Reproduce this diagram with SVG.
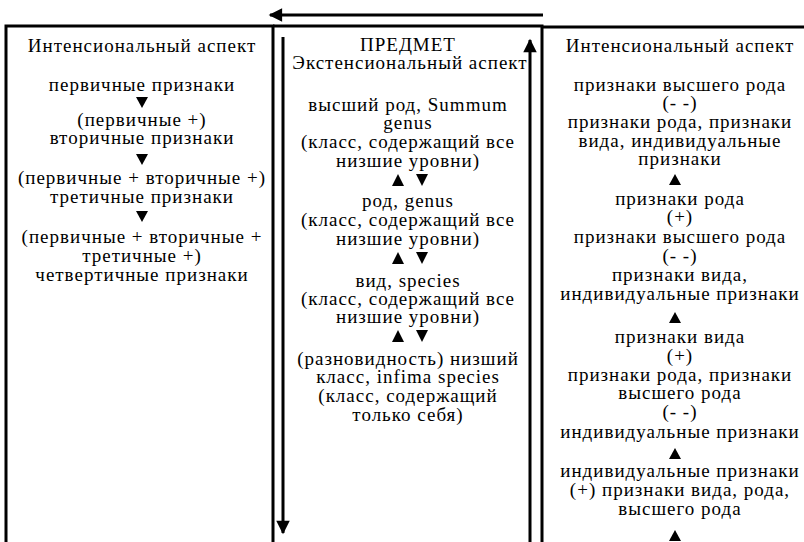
<svg xmlns="http://www.w3.org/2000/svg" width="804" height="542" viewBox="0 0 804 542">
<defs>
<style>
text{font-family:'Liberation Serif','Times New Roman',serif;font-size:19px;fill:#000;text-anchor:middle;letter-spacing:1px}
.b{fill:none;stroke:#000;stroke-width:3}
.a{fill:none;stroke:#000;stroke-width:3}
.t{fill:#000;stroke:none}
</style>
<marker id="ah" viewBox="0 0 10 10" refX="9" refY="5" markerWidth="6" markerHeight="4.5" markerUnits="strokeWidth" orient="auto">
<path d="M0,0 L10,5 L0,10 Z" fill="#000"/>
</marker>
</defs>
<rect width="804" height="542" fill="#fff"/>

<g id="left">
<path class="b" d="M6,545 V26 H273 V545"/>
<text x="142" y="52">Интенсиональный аспект</text>
<text x="142" y="91">первичные признаки</text>
<polygon class="t" points="136,97 148,97 142,108"/>
<text x="142" y="126">(первичные +)</text>
<text x="142" y="144">вторичные признаки</text>
<polygon class="t" points="136,154 148,154 142,165"/>
<text x="142" y="184">(первичные + вторичные +)</text>
<text x="142" y="203">третичные признаки</text>
<polygon class="t" points="136,211 148,211 142,222"/>
<text x="142" y="243">(первичные + вторичные +</text>
<text x="142" y="262">третичные +)</text>
<text x="142" y="281">четвертичные признаки</text>
</g>

<g id="middle">
<path class="b" d="M273,26 H542 V545"/>
<text x="408" y="51">ПРЕДМЕТ</text>
<text x="410" y="69">Экстенсиональный аспект</text>
<text x="408" y="111">высший род, Summum</text>
<text x="408" y="129">genus</text>
<text x="408" y="148">(класс, содержащий все</text>
<text x="408" y="167">низшие уровни)</text>
<polygon class="t" points="392,186 404,186 398,174"/>
<polygon class="t" points="416,174 428,174 422,186"/>
<text x="408" y="207">род, genus</text>
<text x="408" y="226">(класс, содержащий все</text>
<text x="408" y="245">низшие уровни)</text>
<polygon class="t" points="392,264 404,264 398,252"/>
<polygon class="t" points="416,252 428,252 422,264"/>
<text x="408" y="287">вид, species</text>
<text x="408" y="305">(класс, содержащий все</text>
<text x="408" y="323">низшие уровни)</text>
<polygon class="t" points="392,342 404,342 398,330"/>
<polygon class="t" points="416,330 428,330 422,342"/>
<text x="408" y="365">(разновидность) низший</text>
<text x="408" y="383">класс, infima species</text>
<text x="408" y="402">(класс, содержащий</text>
<text x="408" y="421">только себя)</text>
</g>

<g id="right">
<path class="b" d="M542,27 H810"/>
<text x="680" y="52">Интенсиональный аспект</text>
<text x="680" y="91">признаки высшего рода</text>
<text x="680" y="109">(- -)</text>
<text x="680" y="128">признаки рода, признаки</text>
<text x="680" y="147">вида, индивидуальные</text>
<text x="680" y="165">признаки</text>
<polygon class="t" points="669,185 681,185 675,174"/>
<text x="680" y="205">признаки рода</text>
<text x="680" y="223">(+)</text>
<text x="680" y="243">признаки высшего рода</text>
<text x="680" y="262">(- -)</text>
<text x="680" y="281">признаки вида,</text>
<text x="680" y="300">индивидуальные признаки</text>
<polygon class="t" points="669,323 681,323 675,312"/>
<text x="680" y="343">признаки вида</text>
<text x="680" y="362">(+)</text>
<text x="680" y="381">признаки рода, признаки</text>
<text x="680" y="399">высшего рода</text>
<text x="680" y="418">(- -)</text>
<text x="680" y="438">индивидуальные признаки</text>
<polygon class="t" points="669,459 681,459 675,448"/>
<text x="680" y="477">индивидуальные признаки</text>
<text x="680" y="496">(+) признаки вида, рода,</text>
<text x="680" y="515">высшего рода</text>
<polygon class="t" points="669,541 681,541 675,530"/>
</g>

<g id="connectors">
<line class="a" x1="543" y1="15" x2="270" y2="15" marker-end="url(#ah)"/>
<line class="a" x1="283" y1="37" x2="283" y2="533" marker-end="url(#ah)"/>
<line class="a" x1="530" y1="545" x2="530" y2="40" marker-end="url(#ah)"/>
</g>
</svg>
